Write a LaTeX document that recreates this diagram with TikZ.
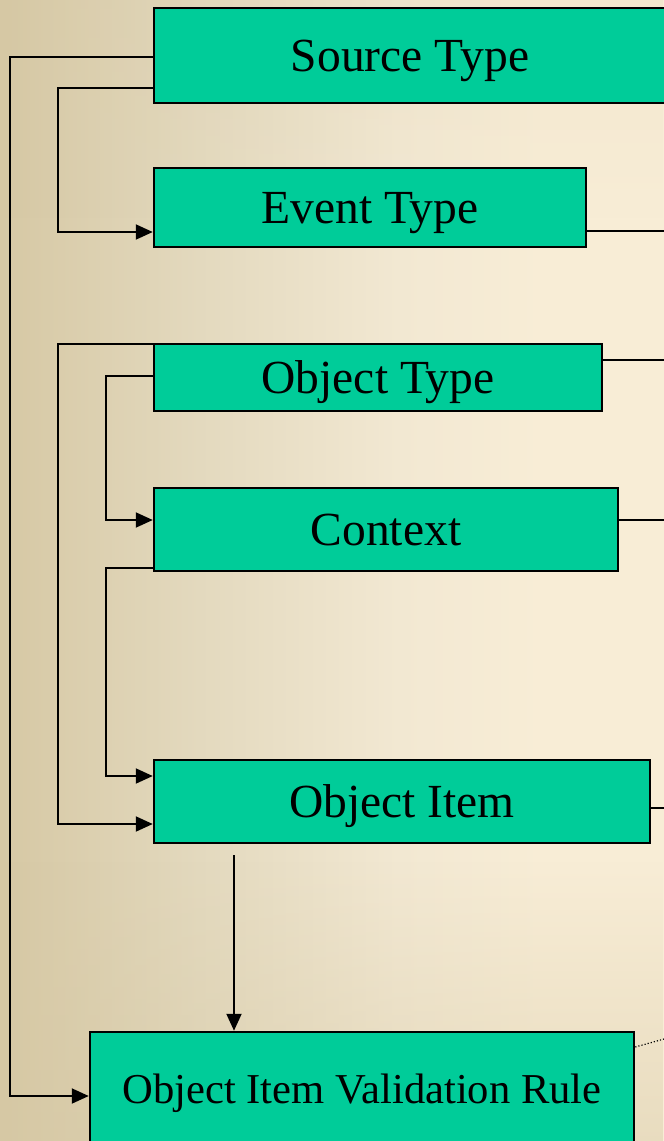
\documentclass[tikz,border=0pt]{standalone}
\usepackage{fontspec}
\setmainfont{Liberation Serif}
\usetikzlibrary{arrows.meta,fadings}
\definecolor{boxgreen}{HTML}{00CC99}
\definecolor{bgA}{HTML}{D6C8A4}
\definecolor{bgB}{HTML}{E3D9BE}
\definecolor{bgC}{HTML}{F2E8D2}
\definecolor{bgD}{HTML}{F8EDD6}
\pgfdeclarehorizontalshading{bgshade}{100bp}{color(0bp)=(bgA); color(25bp)=(bgA); color(40bp)=(bgB); color(55bp)=(bgC); color(66bp)=(bgD); color(75bp)=(bgD); color(100bp)=(bgD)}
\tikzset{
  box/.style={draw=black, line width=2.5pt, fill=boxgreen, inner sep=0pt, text depth=0pt,
    font=\fontsize{47.5}{50}\selectfont},
  conn/.style={draw=black, line width=2pt},
  arr/.style={conn, -{Triangle[length=17pt,width=15pt]}},
}
\begin{document}
\begin{tikzpicture}[x=1pt,y=-1pt]
\useasboundingbox (0,0) rectangle (664,1141);
\clip (0,0) rectangle (664,1141);
\shade[shading=bgshade] (0,0) rectangle (664,1141);
\fill[bgA, path fading=north, fill opacity=0.45] (0,860) rectangle (664,1141);
\fill[bgA, path fading=south, fill opacity=0.15] (0,0) rectangle (664,220);

\node[box, minimum width=512pt, minimum height=95pt] (src) at (410,55.5) {Source Type};
\node[box, minimum width=432pt, minimum height=79pt] (evt) at (370,207.5) {Event Type};
\node[box, minimum width=448pt, minimum height=67pt] (obj) at (378,377.5) {Object Type};
\node[box, minimum width=464pt, minimum height=83pt] (ctx) at (386,529.5) {Context};
\node[box, minimum width=496pt, minimum height=83pt] (itm) at (402,801.5) {Object Item};
\node[box, minimum width=544pt, minimum height=114pt, font=\fontsize{42.6}{45}\selectfont] (rule) at (362,1089) {Object Item Validation Rule};

\coordinate (itmout) at (234,855);
\coordinate (e1) at (700,231);
\coordinate (e2) at (700,360);
\coordinate (e3) at (700,520);
\coordinate (e4) at (700,808);
\coordinate (e5) at (700,1029);

% left connectors
\draw[arr] (src.west |- 0,57) -- (10,57) -- (10,1096) -- (rule.west |- 0,1096);
\draw[arr] (src.west |- 0,88) -- (58,88) -- (58,232) -- (evt.west |- 0,232);
\draw[arr] (obj.west |- 0,344) -- (58,344) -- (58,824) -- (itm.west |- 0,824);
\draw[arr] (obj.west |- 0,376) -- (106,376) -- (106,520) -- (ctx.west |- 0,520);
\draw[arr] (ctx.west |- 0,568) -- (106,568) -- (106,776) -- (itm.west |- 0,776);
\draw[arr] (itmout) -- (rule.north -| itmout);

% right connectors
\draw[conn] (evt.east |- e1) -- (e1);
\draw[conn] (obj.east |- e2) -- (e2);
\draw[conn] (ctx.east |- e3) -- (e3);
\draw[conn] (itm.east |- e4) -- (e4);
\draw[black, line width=1.2pt, dotted] (rule.east |- 0,1047) -- (e5);
\end{tikzpicture}
\end{document}
